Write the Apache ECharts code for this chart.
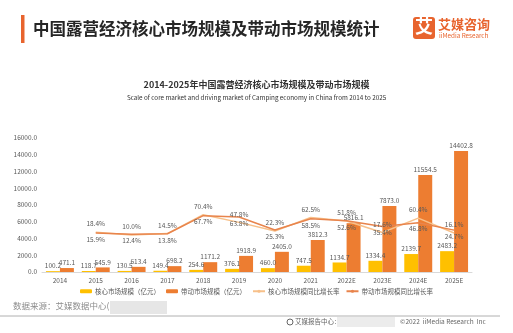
<!DOCTYPE html>
<html><head><meta charset="utf-8">
<script src="https://cdn.jsdelivr.net/npm/echarts@6/dist/echarts.min.js"></script>
<style>html,body{margin:0;padding:0;background:#fff}#c{width:513px;height:333px}</style>
</head><body><div id="c"></div>
<script>
const categories = ['2014','2015','2016','2017','2018','2019','2020','2021','2022E','2023E','2024E','2025E'];
const coreMarket = [100.2,118.7,130.5,149.4,254.6,376.1,460.0,747.5,1134.7,1334.4,2139.7,2483.2];
const drivingMarket = [471.1,545.9,613.4,698.2,1171.2,1918.9,2405.0,3812.3,5816.1,7873.0,11554.5,14402.8];
const coreGrowth = [null,18.4,10.0,14.5,70.4,47.8,22.3,62.5,51.8,17.6,60.4,16.1];
const drivingGrowth = [null,15.9,12.4,13.8,67.7,63.8,25.3,58.5,52.6,35.4,46.8,24.7];
const seriesNames = ['核心市场规模（亿元）','带动市场规模（亿元）','核心市场规模同比增长率','带动市场规模同比增长率'];

const FONT = '"Noto Sans CJK SC","Noto Sans",sans-serif';
const chart = echarts.init(document.getElementById('c'), null, {renderer:'canvas'});
const lblStyle = {fontSize:6.5, color:'#595959', fontFamily:FONT};
chart.setOption({
  backgroundColor:'#fff',
  animation:false,
  textStyle:{fontFamily:FONT},
  title:[{
    text:'2014-2025年中国露营经济核心市场规模及带动市场规模',
    subtext:'Scale of core market and driving market of Camping economy in China from 2014 to 2025',
    left:'center', top:75, itemGap:5,
    textStyle:{fontSize:9, fontWeight:'bold', color:'#333', fontFamily:FONT},
    subtextStyle:{fontSize:6.3, color:'#333', fontFamily:FONT}
  }],
  legend:{
    data:seriesNames, top:283, left:'center', itemGap:6, itemWidth:12, itemHeight:4,
    textStyle:{fontSize:6.5, color:'#595959', fontFamily:FONT, padding:[0,0,0,-2]}
  },
  grid:{left:42, right:41, top:137.7, bottom:61, containLabel:false},
  xAxis:{
    type:'category', data:categories,
    axisLine:{lineStyle:{color:'#d9d9d9'}}, axisTick:{show:false},
    axisLabel:{fontSize:6.5, color:'#595959', margin:5, fontFamily:FONT}
  },
  yAxis:[{
    type:'value', min:0, max:16000, interval:2000,
    splitLine:{show:false}, axisLine:{show:false}, axisTick:{show:false},
    axisLabel:{fontSize:6.5, color:'#595959', margin:5, fontFamily:FONT, formatter:v=>v.toFixed(1)}
  },{
    type:'value', min:-100, max:300, show:false, splitLine:{show:false}
  }],
  series:[
    {name:seriesNames[0], type:'bar', data:coreMarket, barWidth:'39%', barGap:'0%',
     itemStyle:{color:'#FFC000'},
     label:{show:true, position:'top', distance:2, ...lblStyle, formatter:p=>p.value.toFixed(1)}},
    {name:seriesNames[1], type:'bar', data:drivingMarket, barWidth:'39%', barGap:'0%',
     itemStyle:{color:'#ED7D31'},
     label:{show:true, position:'top', distance:2, ...lblStyle, formatter:p=>p.value.toFixed(1)}},
    {name:seriesNames[2], type:'line', yAxisIndex:1, data:coreGrowth, symbol:'circle', symbolSize:0.1, showSymbol:true,
     lineStyle:{color:'#F7C08A', width:1.5}, itemStyle:{color:'#F7C08A'},
     label:{show:true, position:'top', distance:5, ...lblStyle, formatter:p=>p.value.toFixed(1)+'%'}},
    {name:seriesNames[3], type:'line', yAxisIndex:1, data:drivingGrowth, symbol:'circle', symbolSize:0.1, showSymbol:true,
     lineStyle:{color:'#E8844C', width:1.5}, itemStyle:{color:'#E8844C'},
     label:{show:true, position:'bottom', distance:3, ...lblStyle, formatter:p=>p.value.toFixed(1)+'%'}}
  ],
  graphic:[
    {type:'rect', shape:{x:21, y:15, width:3.5, height:28}, style:{fill:'#E8642E'}},
    {type:'text', left:33, top:20, style:{text:'中国露营经济核心市场规模及带动市场规模统计', font:'bold 16.5px '+FONT, fill:'#262626'}},
    {type:'rect', shape:{x:413, y:17, width:22, height:22, r:3}, style:{fill:'#E8642E'}},
    {type:'text', left:415, top:17, style:{text:'艾', font:'bold 18px '+FONT, fill:'#fff'}},
    {type:'text', left:438, top:18, style:{text:'艾媒咨询', font:'bold 13px '+FONT, fill:'#E8642E'}},
    {type:'text', left:439, top:32, style:{text:'iiMedia Research', font:'6.3px '+FONT, fill:'#E8642E'}},
    {type:'text', left:13, top:302, style:{text:'数据来源：艾媒数据中心(', font:'8.5px '+FONT, fill:'#8c8c8c'}},
    {type:'rect', shape:{x:110, y:301, width:57, height:13}, style:{fill:'#e6e6e6'}},
    {type:'line', shape:{x1:0, y1:316, x2:500, y2:316}, style:{stroke:'#b0b0b0', lineWidth:1}},
    {type:'circle', shape:{cx:290, cy:322, r:3}, style:{fill:'none', stroke:'#666', lineWidth:1}},
    {type:'text', left:295, top:318, style:{text:'艾媒报告中心：', font:'6.5px '+FONT, fill:'#666'}},
    {type:'rect', shape:{x:337, y:317, width:58, height:10}, style:{fill:'#ececec'}},
    {type:'text', left:400, top:318, style:{text:'©2022  iiMedia Research  Inc', font:'6.5px '+FONT, fill:'#666'}}
  ]
});
</script></body></html>
